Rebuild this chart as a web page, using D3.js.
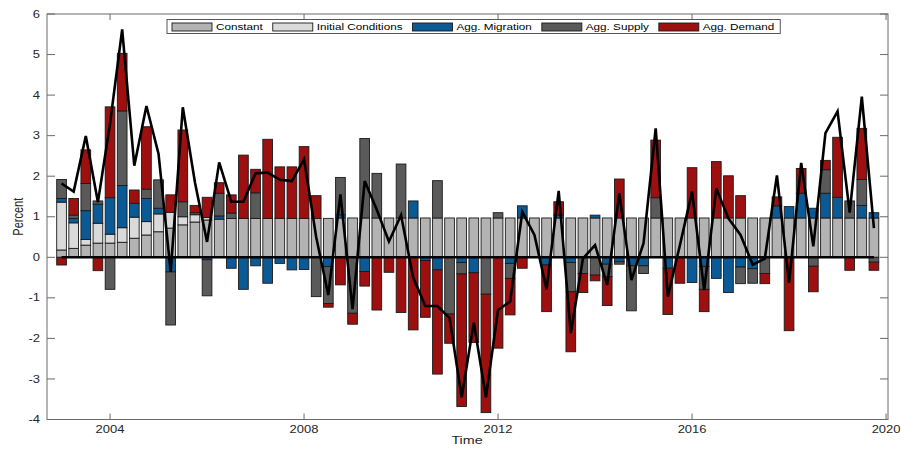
<!DOCTYPE html>
<html>
<head>
<meta charset="utf-8">
<script src="https://cdn.jsdelivr.net/npm/d3@7"></script>
<style>
  body { margin: 0; background: #fff; }
  text { font-family: "Liberation Sans", Arial, sans-serif; }
</style>
</head>
<body>
<script>
// series names and colours
var seriesNames = ["Constant", "Initial Conditions", "Agg. Migration", "Agg. Supply", "Agg. Demand"];
var seriesColors = ["#b3b3b3", "#dadada", "#0b5a96", "#5a5a5a", "#9e0f0f"];

// quarterly contributions, 2003Q1 .. 2019Q4 (percent)
var constant = [0.18,0.22,0.30,0.35,0.35,0.37,0.47,0.55,0.63,0.72,0.80,0.87,0.92,0.94,0.96,0.96,
  0.96,0.96,0.96,0.96,0.96,0.96,0.96,0.97,0.97,0.97,0.97,0.97,0.97,0.97,0.97,0.97,
  0.97,0.97,0.97,0.97,0.97,0.97,0.97,0.97,0.97,0.97,0.97,0.97,0.97,0.97,0.97,0.97,
  0.97,0.97,0.97,0.97,0.97,0.97,0.97,0.97,0.97,0.97,0.97,0.97,0.97,0.97,0.97,0.97,
  0.97,0.97,0.97,0.97];
var initialConditions = [1.18,0.63,0.14,0.49,0.22,0.36,0.52,0.33,0.44,0.39,0.20,0.18,0.06,0,0,0,
  0,0,0,0,0,0,0,0,0,0,0,0,0,0,0,0,
  0,0,0,0,0,0,0,0,0,0,0,0,0,0,0,0,
  0,0,0,0,0,0,0,0,0,0,0,0,0,0,0,0,
  0,0,0,0];
var migration = [0.09,0.11,0.71,0.47,0.90,1.04,0.34,0.57,0.14,-0.36,0,0,-0.06,0.08,-0.27,-0.79,
  -0.21,-0.64,-0.15,-0.31,-0.30,0,-0.23,0.08,0,-0.35,0,0,0,0.42,-0.08,-0.31,
  0,-0.13,-0.38,0,0,-0.15,0.30,0,-0.19,0.07,-0.13,0,0.07,-0.17,-0.11,-0.21,
  -0.21,0,-0.27,0,-0.62,-0.23,-0.52,-0.87,-0.24,-0.28,0,0.30,0.28,0.61,0.24,0.61,
  0.51,0,0.31,0.13];
var supply = [0.47,0.08,0.67,0.08,-0.79,1.84,0,0.23,0.70,-1.31,0.37,0.05,-0.89,0.56,0.13,0,
  0.63,0,0,0,0,-0.97,-0.91,0.92,-1.38,1.96,1.10,0,1.33,0,0,0.92,
  -1.40,-0.28,0,-0.91,0.13,-0.37,0,0,0,0,-0.72,-0.40,-0.44,-0.31,-0.06,-1.11,
  -0.19,0.50,0,0,0,-0.56,0,0,-0.41,-0.36,-0.40,0,0,0,-0.22,0.58,
  0,0.42,0.64,-0.12];
var demand = [-0.19,0.41,0.83,-0.33,2.24,1.42,0.33,1.54,0,0.43,1.77,0.18,0.50,0.26,0.45,1.56,
  0.58,1.95,1.27,1.27,1.77,0.56,-0.09,-0.68,-0.27,-0.36,-1.30,-0.37,-1.36,-1.79,-1.40,-2.57,
  -0.72,-3.27,-1.72,-2.92,-2.24,-0.90,-0.27,0,-1.15,0.33,-1.48,-0.47,-0.14,-0.71,0.96,0,
  0,1.42,-1.14,-0.64,1.24,-0.55,1.39,1.04,0.55,0,-0.25,0.22,-1.81,0.61,-0.63,0.23,
  1.48,-0.32,1.26,-0.20];
var total = [1.82,1.62,2.99,1.36,3.3,5.62,2.26,3.73,2.55,-0.36,3.70,1.85,0.38,2.34,1.37,1.37,
  2.07,2.09,1.91,1.88,2.42,0.5,-0.93,1.55,-1.28,1.88,1.17,0.39,1.04,-0.50,-1.20,-1.20,
  -1.50,-3.45,-1.61,-3.45,-1.30,-1.09,1.12,0.55,-0.79,1.64,-1.87,-0.03,0.30,-0.68,1.58,-0.56,
  0.35,3.18,-0.97,0.3,1.62,-0.81,1.70,0.96,0.55,-0.18,-0.03,2.02,-0.63,2.33,0.27,3.06,
  3.6,1.10,3.96,0.72];
var yearTicks = [2004, 2008, 2012, 2016, 2020];
var valueTicks = [-4, -3, -2, -1, 0, 1, 2, 3, 4, 5, 6];

var dates = d3.range(total.length).map(function(i){ return 2003 + i / 4; });

var width = 901, height = 449;
var plotL = 47, plotR = 888, plotT = 14, plotB = 419.5;
var sx = 1.3; // glyphs are wider than tall in the picture

var svg = d3.select("body").append("svg")
  .attr("width", width)
  .attr("height", height);

var x = d3.scaleLinear().domain([2002.7, 2020.04]).range([plotL, plotR]);
var y = d3.scaleLinear().domain([-4, 6]).range([plotB, plotT]);

var rows = dates.map(function(d, i){
  return { date: d, c: constant[i], ic: initialConditions[i], mig: migration[i], sup: supply[i], dem: demand[i] };
});
var keys = ["c", "ic", "mig", "sup", "dem"];
var stacked = d3.stack().keys(keys).offset(d3.stackOffsetDiverging)(rows);

var barW = x(2003.2) - x(2003);

var layers = svg.selectAll("g.layer")
  .data(stacked)
  .enter()
  .append("g")
  .attr("class", "layer")
  .attr("fill", function(d, i){ return seriesColors[i]; });

layers.selectAll("rect")
  .data(function(d){ return d.filter(function(p){ return p[1] !== p[0]; }); })
  .enter()
  .append("rect")
  .attr("x", function(d){ return x(d.data.date) - barW / 2; })
  .attr("y", function(d){ return y(Math.max(d[0], d[1])); })
  .attr("width", barW)
  .attr("height", function(d){ return Math.abs(y(d[0]) - y(d[1])); })
  .attr("stroke", "#1a1a1a")
  .attr("stroke-width", 0.9);

// zero line
svg.append("line")
  .attr("x1", x(dates[0])).attr("x2", x(dates[dates.length - 1]))
  .attr("y1", y(0)).attr("y2", y(0))
  .attr("stroke", "#000").attr("stroke-width", 2.6);

// total
var line = d3.line()
  .x(function(d, i){ return x(dates[i]); })
  .y(function(d){ return y(d); });
svg.append("path")
  .datum(total)
  .attr("d", line)
  .attr("fill", "none")
  .attr("stroke", "#000")
  .attr("stroke-width", 2.6)
  .attr("stroke-linejoin", "miter");

// axes box
var axisColor = "#6a6a6a";
svg.append("rect")
  .attr("x", plotL).attr("y", plotT)
  .attr("width", plotR - plotL).attr("height", plotB - plotT)
  .attr("fill", "none").attr("stroke", axisColor).attr("stroke-width", 1);

valueTicks.forEach(function(v){
  svg.append("line").attr("x1", plotL).attr("x2", plotL + 8)
    .attr("y1", y(v)).attr("y2", y(v)).attr("stroke", axisColor);
  svg.append("line").attr("x1", plotR - 8).attr("x2", plotR)
    .attr("y1", y(v)).attr("y2", y(v)).attr("stroke", axisColor);
  svg.append("text")
    .text(v)
    .attr("transform", "translate(40," + (y(v) + 3.6) + ") scale(" + sx + ",1)")
    .attr("text-anchor", "end")
    .attr("font-size", "10px")
    .attr("fill", "#262626");
});

yearTicks.forEach(function(t){
  svg.append("line").attr("x1", x(t)).attr("x2", x(t))
    .attr("y1", plotB).attr("y2", plotB - 6).attr("stroke", axisColor);
  svg.append("line").attr("x1", x(t)).attr("x2", x(t))
    .attr("y1", plotT).attr("y2", plotT + 6).attr("stroke", axisColor);
  svg.append("text")
    .text(t)
    .attr("transform", "translate(" + x(t) + ",432.6) scale(" + sx + ",1)")
    .attr("text-anchor", "middle")
    .attr("font-size", "10px")
    .attr("fill", "#262626");
});

svg.append("text")
  .text("Time")
  .attr("transform", "translate(467,444) scale(" + sx + ",1)")
  .attr("text-anchor", "middle")
  .attr("font-size", "11px")
  .attr("fill", "#262626");

svg.append("text")
  .text("Percent")
  .attr("transform", "translate(22.5," + ((plotT + plotB) / 2) + ") scale(" + sx + ",1) rotate(-90)")
  .attr("text-anchor", "middle")
  .attr("font-size", "11px")
  .attr("fill", "#262626");

// legend
var legend = svg.append("g");
var legendBox = legend.append("rect")
  .attr("y", 19.5).attr("height", 14)
  .attr("fill", "#fff").attr("stroke", "#555").attr("stroke-width", 1);
var lx = 172;
seriesNames.forEach(function(name, i){
  legend.append("rect")
    .attr("x", lx).attr("y", 23).attr("width", 40).attr("height", 8)
    .attr("fill", seriesColors[i]).attr("stroke", "#1a1a1a").attr("stroke-width", 0.9);
  var t = legend.append("text")
    .text(name)
    .attr("transform", "translate(" + (lx + 44) + ",30.3) scale(" + sx + ",1)")
    .attr("font-size", "9px")
    .attr("fill", "#000");
  lx += 44 + t.node().getComputedTextLength() * sx + 10;
});
legendBox.attr("x", 167).attr("width", lx - 10 + 6 - 167);
</script>
</body>
</html>
